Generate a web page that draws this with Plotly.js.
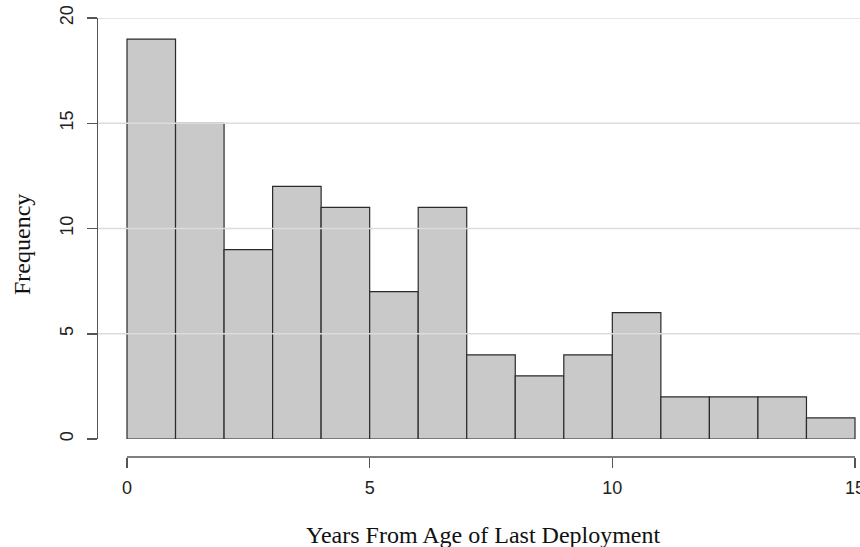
<!DOCTYPE html>
<html>
<head>
<meta charset="utf-8">
<script src="https://cdn.plot.ly/plotly-3.0.1.min.js"></script>
<style>html,body{margin:0;padding:0;background:#fff;}#chart{width:860px;height:547px;}</style>
</head>
<body>
<div id="chart"></div>
<script>
// Histogram data: bin edges (years) and counts
var binEdges = [0, 1, 2, 3, 4, 5, 6, 7, 8, 9, 10, 11, 12, 13, 14, 15];
var counts = [19, 15, 9, 12, 11, 7, 11, 4, 3, 4, 6, 2, 2, 2, 1];
var xTicks = [0, 5, 10, 15];
var yTicks = [0, 5, 10, 15, 20];
var xTitle = "Years From Age of Last Deployment";
var yTitle = "Frequency";

var centers = [], widths = [];
for (var i = 0; i < counts.length; i++) {
  centers.push((binEdges[i] + binEdges[i + 1]) / 2);
  widths.push(binEdges[i + 1] - binEdges[i]);
}

var trace = {
  type: 'bar',
  x: centers,
  y: counts,
  width: widths,
  marker: { color: '#c9c9c9', line: { color: '#2b2b2b', width: 1.2 } },
  hoverinfo: 'x+y'
};

var shapes = [];
// gridlines drawn above bars, as in reference
yTicks.slice(1).forEach(function (v) {
  shapes.push({ type: 'line', xref: 'paper', yref: 'y', x0: 0, x1: 1, y0: v, y1: v,
    line: { color: '#dcdcdc', width: 1.5 }, layer: 'above' });
});
// detached x axis line spanning the histogram range
shapes.push({ type: 'line', xref: 'x', yref: 'paper', x0: binEdges[0], x1: binEdges[binEdges.length - 1], y0: 0, y1: 0,
  line: { color: '#555', width: 1.5 }, layer: 'above' });

var tickFont = { family: 'Liberation Sans, Arial, sans-serif', size: 18, color: '#222' };

var layout = {
  width: 860, height: 547,
  margin: { l: 98, r: 0, t: 18, b: 90, pad: 0 },
  paper_bgcolor: '#fff', plot_bgcolor: '#fff',
  showlegend: false,
  bargap: 0,
  xaxis: {
    range: [-0.5975, 15.103],
    anchor: 'free', position: 0,
    tickvals: xTicks, ticktext: xTicks.map(String),
    ticks: 'outside', ticklen: 10, tickwidth: 1.5, tickcolor: '#555',
    showgrid: false, zeroline: false, showline: false,
    tickfont: tickFont, ticklabelstandoff: 4,
    ticklabeloverflow: 'allow'
  },
  yaxis: {
    range: [0, 20],
    domain: [18 / 439, 1],
    tickvals: yTicks, ticktext: yTicks.map(String),
    tickangle: -90,
    ticks: 'outside', ticklen: 10, tickwidth: 1.5, tickcolor: '#555',
    showgrid: false, zeroline: false,
    showline: true, linecolor: '#555', linewidth: 1.5,
    tickfont: tickFont, ticklabelstandoff: 6
  },
  shapes: shapes,
  annotations: [
    { text: xTitle, xref: 'paper', yref: 'paper', x: (484 - 98) / 762, y: -78 / 439,
      xanchor: 'center', yanchor: 'middle', showarrow: false,
      font: { family: 'Liberation Serif, Times New Roman, serif', size: 24, color: '#111' } },
    { text: yTitle, xref: 'paper', yref: 'paper', x: -76 / 762, y: (457 - 245) / 439,
      xanchor: 'center', yanchor: 'middle', textangle: -90, showarrow: false,
      font: { family: 'Liberation Serif, Times New Roman, serif', size: 24, color: '#111' } }
  ]
};

Plotly.newPlot('chart', [trace], layout, { displayModeBar: false, staticPlot: true });
</script>
</body>
</html>
